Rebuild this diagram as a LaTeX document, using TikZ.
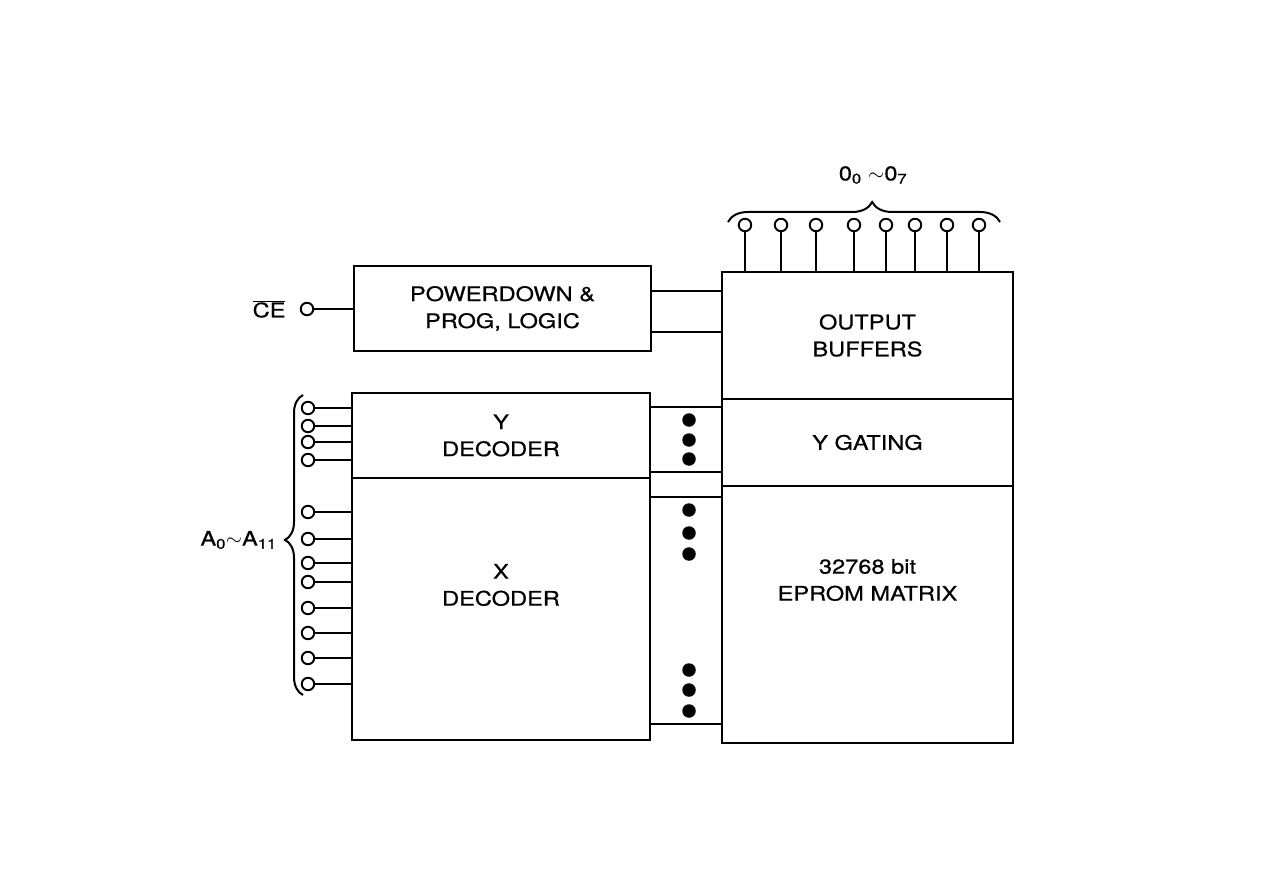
\documentclass[tikz,border=0pt]{standalone}
\usepackage{fontspec}
\newfontfamily\diafont[FakeStretch=1.18, FakeBold=0.6]{TeX Gyre Heros}
\usetikzlibrary{positioning, calc, decorations.pathreplacing}

\begin{document}
\begin{tikzpicture}[x=1pt, y=-1pt, line width=2pt,
    txt/.style={font=\diafont\fontsize{20}{27}\selectfont, align=center},
    block/.style={draw, rectangle, txt, inner sep=0pt, outer sep=0pt},
    pin/.style={draw, circle, minimum size=12.5pt, inner sep=0pt, line width=1.9pt},
    busdot/.style={fill, circle, minimum size=13.5pt, inner sep=0pt},
    brc/.style={decorate, decoration={brace, amplitude=#1}}]
    \useasboundingbox (0,0) rectangle (1263,893);

    % Blocks, right column
    \node[block, minimum width=291pt, minimum height=127pt] (ob) at (867.5,335.5) {OUTPUT\\BUFFERS};
    \node[block, minimum width=291pt, minimum height=87pt, below=0pt of ob] (yg) {Y GATING};
    \node[block, minimum width=291pt, minimum height=257pt, below=0pt of yg] (mat) {};
    \node[txt] (matlbl) at ($(mat.north)+(0,94)$) {32768 bit\\EPROM MATRIX};

    % Blocks, left column
    \node[block, minimum width=297pt, minimum height=85pt] (pd) at (502.5,308.5) {POWERDOWN \&\\PROG, LOGIC};
    \node[block, minimum width=298pt, minimum height=85pt] (ydec) at (501,435.5) {Y\\DECODER};
    \node[block, minimum width=298pt, minimum height=262pt, below=0pt of ydec] (xdec) {};
    \node[txt] (xdeclbl) at ($(xdec.north)+(0,107)$) {X\\DECODER};

    % Buses between the columns
    \foreach \by in {291,332}
        \draw (pd.east |- 0,\by) -- (ob.west |- 0,\by);
    \foreach \by in {407,472}
        \draw (ydec.east |- 0,\by) -- (yg.west |- 0,\by);
    \foreach \by in {497,724}
        \draw (xdec.east |- 0,\by) -- (mat.west |- 0,\by);
    \foreach \dy in {420,440,459,510,533,554,670,690,711}
        \node[busdot] (dot\dy) at (689,\dy) {};

    % Output pins
    \foreach \px [count=\i] in {745,781,816,854,886,915,947,979} {
        \node[pin] (o\i) at (\px,225) {};
        \draw (o\i) -- (o\i |- ob.north);
    }
    \draw[brc=20pt, decoration={aspect=0.53}] (728,222) -- (1000,222);
    \node[txt] (olbl) at (873,175) {0\textsubscript{0} $\sim$0\textsubscript{7}};

    % Address pins
    \foreach \py [count=\i] in {408,426,442,460,512,539,563,582,608,633,658,684} {
        \node[pin] (a\i) at (308,\py) {};
        \draw (a\i) -- (a\i -| ydec.west);
    }
    \draw[brc=18pt, decoration={aspect=0.517}] (303,695) -- (303,395);
    \node[txt, anchor=east] (albl) at (281,540) {A\textsubscript{0}$\sim$A\textsubscript{11}};

    % Chip enable
    \node[pin] (ce) at (307,309) {};
    \draw (ce) -- (ce -| pd.west);
    \node[txt, left=10pt of ce] (celbl) {$\overline{\mbox{CE}}$};
\end{tikzpicture}
\end{document}
